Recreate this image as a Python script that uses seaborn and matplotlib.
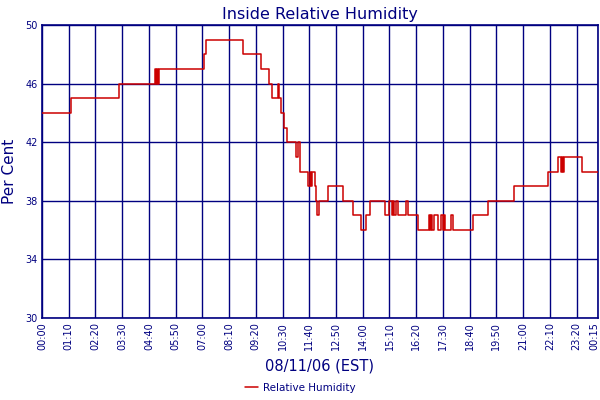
import matplotlib
matplotlib.use("Agg")
import matplotlib.pyplot as plt
import matplotlib.transforms as mtransforms
import seaborn as sns
import pandas as pd

# minutes since 00:00 on 08/11/06 where the reading changes, and the reading
minutes = [0, 77, 202, 295, 298, 301, 304, 307, 423, 430, 527, 573, 594, 603,
           617, 621, 625, 633, 642, 665, 670, 675, 697, 701, 704, 708, 714,
           717, 721, 726, 750, 787, 814, 836, 849, 859, 897, 909, 916, 920,
           923, 928, 931, 954, 958, 984, 1014, 1017, 1019, 1022, 1027, 1038,
           1046, 1050, 1053, 1056, 1071, 1076, 1128, 1168, 1235, 1326, 1351,
           1358, 1362, 1365, 1368, 1414, 1455]
humidity = [44, 45, 46, 47, 46, 47, 46, 47, 48, 49, 48, 47, 46, 45,
            46, 45, 44, 43, 42, 41, 42, 40, 39, 40, 39, 40, 39,
            38, 37, 38, 39, 38, 37, 36, 37, 38, 37, 38, 37, 38,
            37, 38, 37, 38, 37, 36, 37, 36, 37, 36, 37, 36,
            37, 36, 37, 36, 37, 36, 37, 38, 39, 40, 41,
            40, 41, 40, 41, 40, 40]

tick_pos = list(range(0, 1401, 70)) + [1455]
tick_labels = ["%02d:%02d" % (m // 60, m % 60) for m in range(0, 1401, 70)] + ["00:15"]
y_ticks = [30, 34, 38, 42, 46, 50]

navy = "#000080"
red = "#CC0000"

df = pd.DataFrame({"minute": minutes, "Relative Humidity": humidity})

sns.set_style("white")
plt.rcParams["font.family"] = ["DejaVu Sans"]

fig = plt.figure(figsize=(6, 4), dpi=100)
ax = fig.add_axes([0.07, 0.205, 0.926, 0.7325])

sns.lineplot(data=df, x="minute", y="Relative Humidity", ax=ax, color=red,
             linewidth=1.1, drawstyle="steps-post", label="Relative Humidity",
             legend=False, zorder=3)

ax.set_xlim(0, 1455)
ax.set_ylim(30, 50)
ax.set_xticks(tick_pos)
ax.set_xticklabels(tick_labels, rotation=90, fontsize=7, color=navy)
ax.set_yticks(y_ticks)
ax.set_yticklabels([str(v) for v in y_ticks], fontsize=7, color=navy)
ax.tick_params(length=0, pad=3)
ax.grid(True, color=navy, linewidth=1.0)
for s in ax.spines.values():
    s.set_color(navy)
    s.set_linewidth(1.2)

# nudge the last label so it stays inside the picture
last = ax.get_xticklabels()[-1]
last.set_transform(last.get_transform() +
                   mtransforms.ScaledTranslation(-3 / 100, 0, fig.dpi_scale_trans))

ax.set_title("Inside Relative Humidity", fontsize=11.5, color=navy, pad=4)
ax.set_xlabel("08/11/06 (EST)", fontsize=10.5, color=navy, labelpad=6)
ax.set_ylabel("Per Cent", fontsize=11, color=navy, labelpad=6)

h, l = ax.get_legend_handles_labels()
leg = fig.legend(h, l, loc="lower center", bbox_to_anchor=(0.5, -0.005),
                 frameon=False, fontsize=7.5, handlelength=1.3, handletextpad=0.4)
for t in leg.get_texts():
    t.set_color(navy)

fig.savefig("out.png", dpi=100)
